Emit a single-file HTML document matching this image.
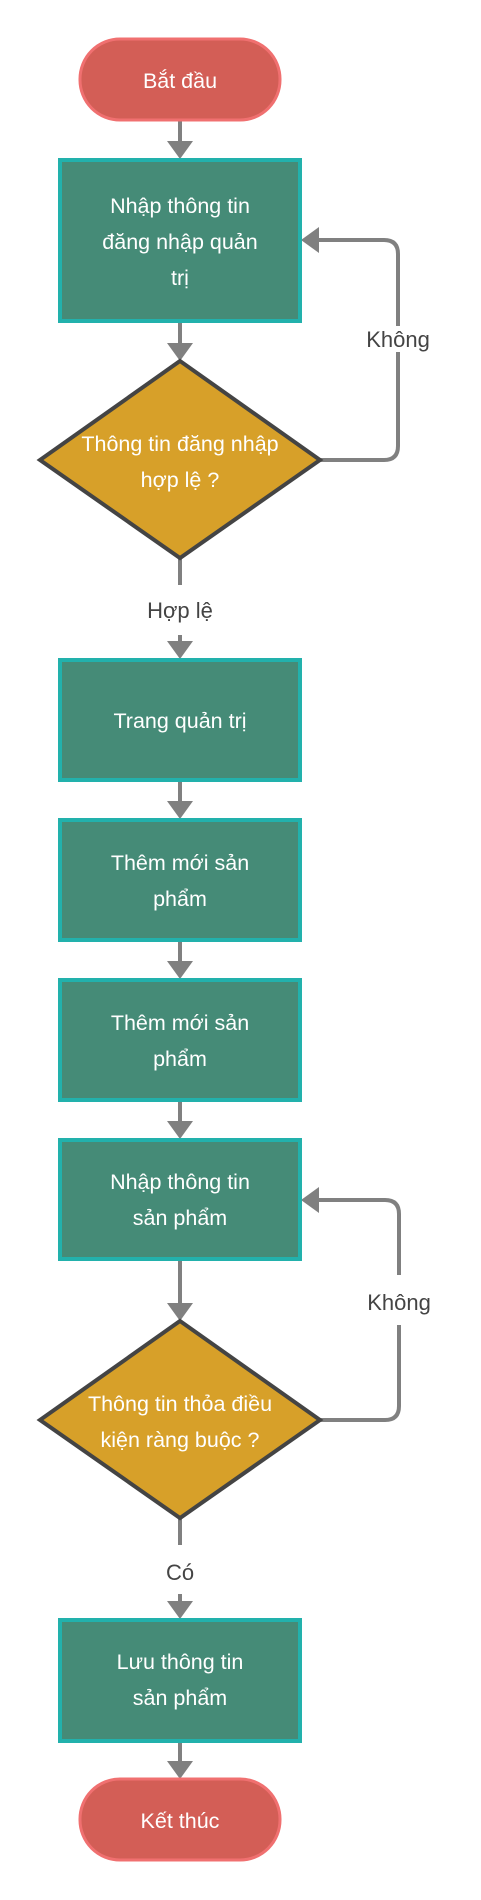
<!DOCTYPE html>
<html><head><meta charset="utf-8"><style>
html,body{margin:0;padding:0;background:#fff;}
svg{display:block;}
text{font-family:"Liberation Sans","DejaVu Sans",sans-serif;}
.w{fill:#fff;font-size:21.5px;text-anchor:middle;}
.l{fill:#444;font-size:22px;text-anchor:middle;}
.box{fill:#458b77;stroke:#22b1ac;stroke-width:4;}
.pill{fill:#d35e56;stroke:#f07070;stroke-width:3;}
.dia{fill:#d7a029;stroke:#444;stroke-width:4;}
.ln{stroke:#808080;stroke-width:4;fill:none;}
.ah{fill:#808080;}
</style></head><body>
<svg width="481" height="1900" viewBox="0 0 481 1900">
<line class="ln" x1="180" y1="120" x2="180" y2="142"/><polygon class="ah" points="167,141 193,141 180,159"/>
<line class="ln" x1="180" y1="322" x2="180" y2="344"/><polygon class="ah" points="167,343 193,343 180,361"/>
<line class="ln" x1="180" y1="558" x2="180" y2="585"/>
<line class="ln" x1="180" y1="635" x2="180" y2="642"/><polygon class="ah" points="167,641 193,641 180,659"/>
<line class="ln" x1="180" y1="781" x2="180" y2="802"/><polygon class="ah" points="167,801 193,801 180,819"/>
<line class="ln" x1="180" y1="941" x2="180" y2="962"/><polygon class="ah" points="167,961 193,961 180,979"/>
<line class="ln" x1="180" y1="1101" x2="180" y2="1122"/><polygon class="ah" points="167,1121 193,1121 180,1139"/>
<line class="ln" x1="180" y1="1260" x2="180" y2="1304"/><polygon class="ah" points="167,1303 193,1303 180,1321"/>
<line class="ln" x1="180" y1="1518" x2="180" y2="1545"/>
<line class="ln" x1="180" y1="1594" x2="180" y2="1602"/><polygon class="ah" points="167,1601 193,1601 180,1619"/>
<line class="ln" x1="180" y1="1742" x2="180" y2="1762"/><polygon class="ah" points="167,1761 193,1761 180,1779"/>
<path class="ln" d="M320,460 H384 Q398,460 398,446 V352"/>
<path class="ln" d="M398,326 V254 Q398,240 384,240 H318"/>
<polygon class="ah" points="301,240 319,227 319,253"/>
<path class="ln" d="M320,1420 H385 Q399,1420 399,1406 V1325"/>
<path class="ln" d="M399,1275 V1214 Q399,1200 385,1200 H318"/>
<polygon class="ah" points="301,1200 319,1187 319,1213"/>
<text class="l" x="398" y="347">Không</text>
<text class="l" x="399" y="1310">Không</text>
<text class="l" x="180" y="618">Hợp lệ</text>
<text class="l" x="180" y="1580">Có</text>
<rect class="pill" x="80" y="39" width="200" height="81" rx="40"/>
<text class="w" x="180" y="88">Bắt đầu</text>
<rect class="box" x="60" y="160" width="240" height="161"/>
<text class="w" x="180" y="213">Nhập thông tin</text>
<text class="w" x="180" y="249">đăng nhập quản</text>
<text class="w" x="180" y="285">trị</text>
<polygon class="dia" points="180,361 320,460 180,558 40,460"/>
<text class="w" x="180" y="451">Thông tin đăng nhập</text>
<text class="w" x="180" y="487">hợp lệ ?</text>
<rect class="box" x="60" y="660" width="240" height="120"/>
<text class="w" x="180" y="728">Trang quản trị</text>
<rect class="box" x="60" y="820" width="240" height="120"/>
<text class="w" x="180" y="870">Thêm mới sản</text>
<text class="w" x="180" y="906">phẩm</text>
<rect class="box" x="60" y="980" width="240" height="120"/>
<text class="w" x="180" y="1030">Thêm mới sản</text>
<text class="w" x="180" y="1066">phẩm</text>
<rect class="box" x="60" y="1140" width="240" height="119"/>
<text class="w" x="180" y="1189">Nhập thông tin</text>
<text class="w" x="180" y="1225">sản phẩm</text>
<polygon class="dia" points="180,1321 320,1420 180,1518 40,1420"/>
<text class="w" x="180" y="1411">Thông tin thỏa điều</text>
<text class="w" x="180" y="1447">kiện ràng buộc ?</text>
<rect class="box" x="60" y="1620" width="240" height="121"/>
<text class="w" x="180" y="1669">Lưu thông tin</text>
<text class="w" x="180" y="1705">sản phẩm</text>
<rect class="pill" x="80" y="1779" width="200" height="81" rx="40"/>
<text class="w" x="180" y="1828">Kết thúc</text>
</svg>
</body></html>
